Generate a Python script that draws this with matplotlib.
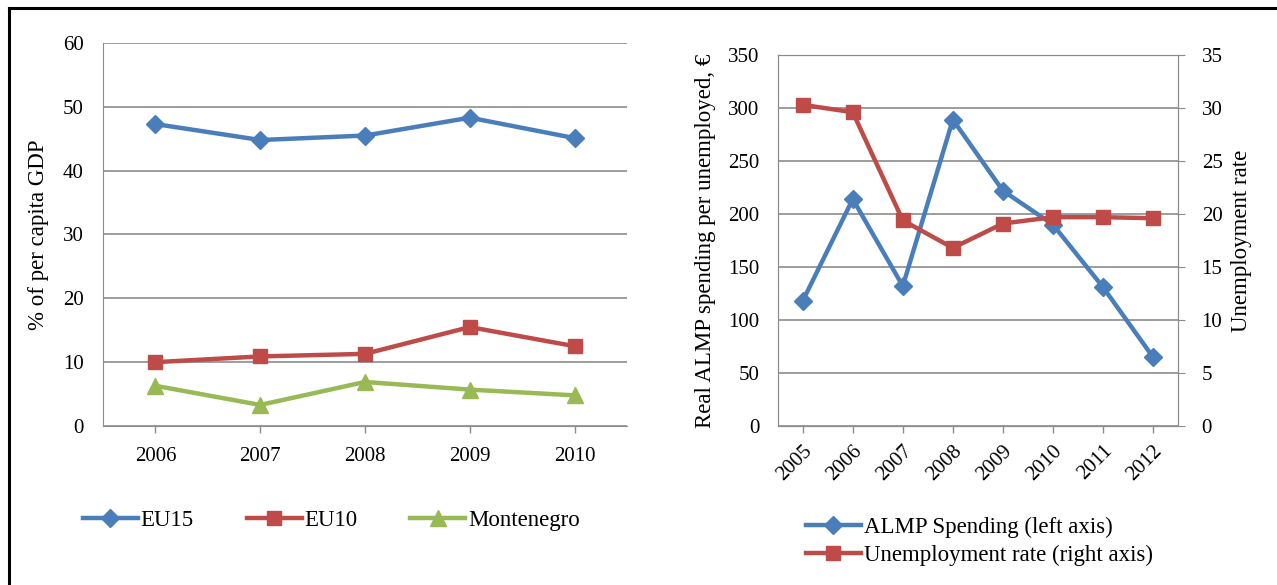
import matplotlib.pyplot as plt
import matplotlib.lines as mlines

plt.rcParams['font.family'] = ['Liberation Serif', 'DejaVu Serif']
plt.rcParams['font.size'] = 15

# left panel data
years_l = ['2006', '2007', '2008', '2009', '2010']
eu15 = [47.3, 44.8, 45.5, 48.3, 45.1]
eu10 = [10.0, 10.9, 11.3, 15.5, 12.5]
montenegro = [6.3, 3.3, 6.9, 5.7, 4.8]

# right panel data
years_r = ['2005', '2006', '2007', '2008', '2009', '2010', '2011', '2012']
almp = [118, 214, 132, 289, 222, 190, 131, 65]
unemp = [30.3, 29.6, 19.4, 16.8, 19.1, 19.7, 19.7, 19.6]

blue = '#4a7ebb'
red = '#be4b48'
green = '#98b954'
grey = '#8c8c8c'

fig = plt.figure(figsize=(12.77, 5.85), dpi=100)

# border round the figure (top and left visible)
fig.add_artist(mlines.Line2D([0.007, 0.007], [0, 0.986], color='black', lw=2.2))
fig.add_artist(mlines.Line2D([0.007, 1], [0.986, 0.986], color='black', lw=2.2))


def style(ax):
    for s in ax.spines.values():
        s.set_color(grey)
    ax.grid(axis='y', color=grey, lw=1.2)
    ax.set_axisbelow(True)
    ax.tick_params(axis='x', colors=grey, labelcolor='black', length=5, width=1)


ax1 = fig.add_axes([0.0807, 0.2718, 0.4103, 0.6547])
x = range(len(years_l))
ax1.plot(x, eu15, color=blue, lw=3.2, marker='D', ms=9, label='EU15')
ax1.plot(x, eu10, color=red, lw=3.2, marker='s', ms=10, label='EU10')
ax1.plot(x, montenegro, color=green, lw=3.2, marker='^', ms=11, label='Montenegro')
ax1.set_xlim(-0.5, len(years_l) - 0.5)
ax1.set_ylim(0, 60)
ax1.set_yticks(range(0, 61, 10))
ax1.set_xticks(list(x))
ax1.set_xticklabels(years_l)
style(ax1)
ax1.spines['top'].set_visible(False)
ax1.spines['right'].set_visible(False)
ax1.tick_params(axis='y', length=0, pad=14)
ax1.tick_params(axis='x', pad=10)
ax1.set_ylabel('% of per capita GDP', fontsize=16.5, labelpad=10)
ax1.legend(loc='upper left', bbox_to_anchor=(-0.078, -0.166), ncol=3, frameon=False,
           handlelength=2.4, handletextpad=0.13, columnspacing=2.3, fontsize=16.5)

ax2 = fig.add_axes([0.609, 0.2718, 0.3135, 0.6342])
ax3 = ax2.twinx()
x2 = range(len(years_r))
l1, = ax2.plot(x2, almp, color=blue, lw=3.2, marker='D', ms=9, label='ALMP Spending (left axis)')
l2, = ax3.plot(x2, unemp, color=red, lw=3.2, marker='s', ms=10, label='Unemployment rate (right axis)')
ax2.set_xlim(-0.5, len(years_r) - 0.5)
ax2.set_ylim(0, 350)
ax2.set_yticks(range(0, 351, 50))
ax3.set_ylim(0, 35)
ax3.set_yticks(range(0, 36, 5))
ax2.set_xticks(list(x2))
ax2.set_xticklabels(years_r, rotation=45, ha='right', rotation_mode='anchor')
style(ax2)
for s in ax3.spines.values():
    s.set_color(grey)
ax2.tick_params(axis='y', length=0, pad=13)
ax3.tick_params(axis='y', colors=grey, labelcolor='black', length=5, pad=12)
ax2.tick_params(axis='x', pad=6)
ax2.set_ylabel('Real ALMP spending per unemployed, €', fontsize=16.5, labelpad=9)
ax3.set_ylabel('Unemployment rate', fontsize=16.5, labelpad=6)
ax2.legend(handles=[l1, l2], loc='upper left', bbox_to_anchor=(0.018, -0.19), frameon=False,
           handlelength=2.4, handletextpad=0.13, labelspacing=0.3, fontsize=16.5)

fig.savefig('out.png', dpi=100)
